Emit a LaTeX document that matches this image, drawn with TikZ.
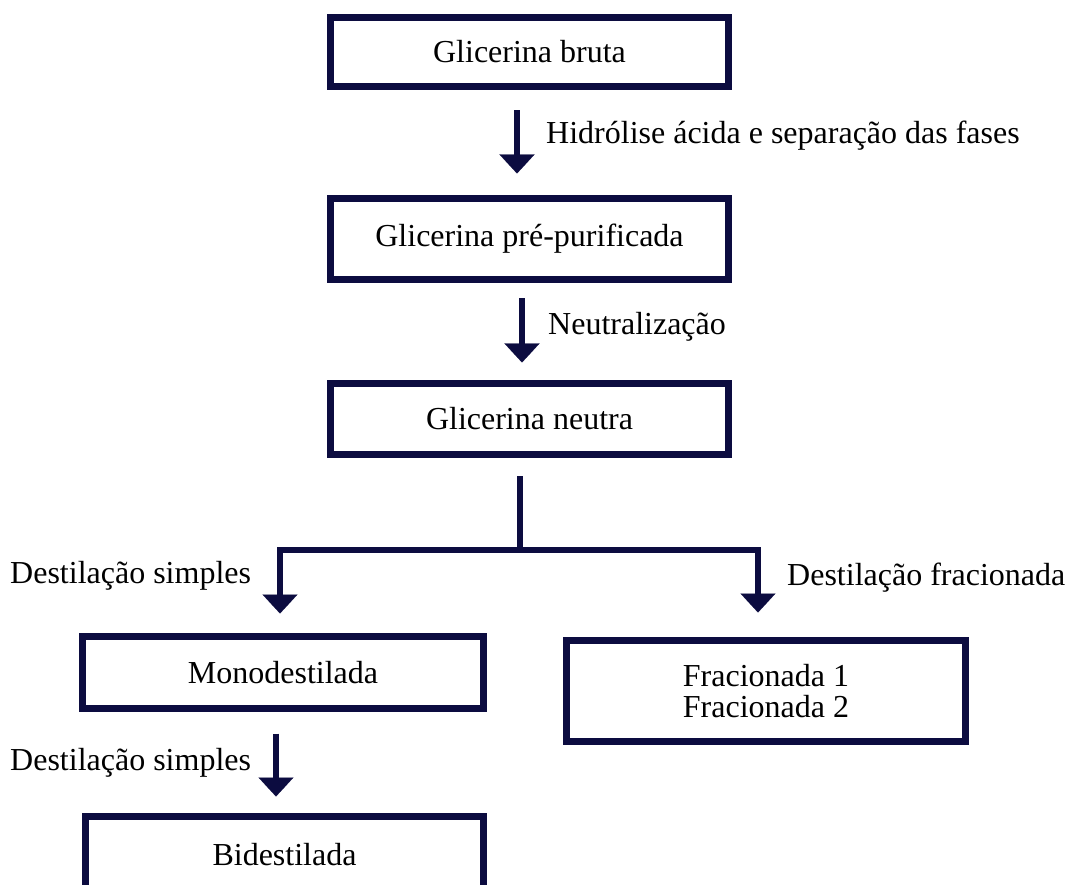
\documentclass[tikz,border=0pt]{standalone}
\usepackage{fontspec}
\setmainfont{Liberation Serif}
\usetikzlibrary{arrows.meta}
\definecolor{navy}{RGB}{12,12,64}
\begin{document}
\begin{tikzpicture}[x=1pt,y=1pt,
  every node/.style={font=\fontsize{32}{31}\selectfont, inner sep=0pt},
  procbox/.style={draw=navy, line width=7pt, minimum width=398pt, align=center},
  conn/.style={draw=navy, line width=6.5pt},
  arr/.style={conn, -{Triangle[width=35pt,length=19pt,line width=0.1pt]}},
  lbl/.style={anchor=base west, text=black}]
\useasboundingbox (0,0) rectangle (1072,-885);
\clip (0,0) rectangle (1072,-885);
\fill[white] (0,0) rectangle (1072,-885);

\node[procbox, minimum height=69pt] (b1) at (529.5,-52) {Glicerina bruta};
\node[procbox, minimum height=81pt] (b2) at (529.5,-239) {Glicerina pré-purificada};
\node[procbox, minimum height=71pt] (b3) at (529.5,-419) {Glicerina neutra};
\node[procbox, minimum width=401pt, minimum height=72pt] (mono) at (283,-672.5) {Monodestilada};
\node[procbox, minimum width=399pt, minimum height=101pt] (frac) at (766,-691) {Fracionada 1\\Fracionada 2};
\node[procbox, minimum height=77pt] (bi) at (284.5,-855) {Bidestilada};

\node[lbl] (l1) at (546,-144) {Hidrólise ácida e separação das fases};
\node[lbl] (l2) at (548,-335) {Neutralização};
\node[lbl] (l3) at (10,-583) {Destilação simples};
\node[lbl] (l4) at (787,-585) {Destilação fracionada};
\node[lbl] (l5) at (10,-770) {Destilação simples};

\draw[arr, shorten <=20.5pt, shorten >=21.5pt] ([xshift=-12.5pt]b1.south) -- ([xshift=-12.5pt]b2.north);
\draw[arr, shorten <=15.5pt, shorten >=17.5pt] ([xshift=-7.5pt]b2.south) -- ([xshift=-7.5pt]b3.north);

\coordinate (j) at (520,-550);
\draw[conn, shorten <=18.5pt] (b3.south -| j) -- (j);
\draw[arr, shorten >=19.5pt] (j) -| ([xshift=-3pt]mono.north);
\draw[arr, shorten >=24.5pt] (j) -| ([xshift=-8pt]frac.north);
\draw[arr, shorten <=21.5pt, shorten >=16.5pt] ([xshift=-7pt]mono.south) -- ([xshift=-8.5pt]bi.north);
\end{tikzpicture}
\end{document}
